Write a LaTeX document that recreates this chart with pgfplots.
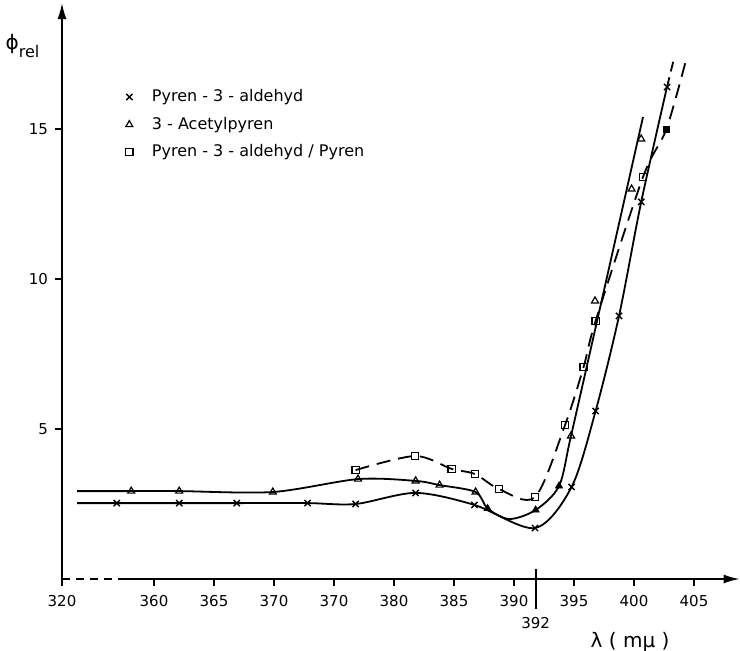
\documentclass[border=0pt]{standalone}
\usepackage{fontspec}
\setmainfont{DejaVu Sans}
\usepackage{pgfplots}
\pgfplotsset{compat=1.18}
\usetikzlibrary{arrows.meta}

\begin{document}
\begin{tikzpicture}[font=\fontsize{8}{9.6}\selectfont]
\path[use as bounding box] (-31pt,-35.5pt) rectangle (339pt,289.5pt);
\begin{axis}[
  at={(0,0)}, anchor=south west,
  x=6pt, y=15pt,
  xmin=352.333, xmax=408.667, ymin=0, ymax=19.133,
  axis x line*=bottom, axis y line*=left,
  axis line style={draw=none},
  clip=false,
  xtick={352.333,360,365,370,375,380,385,390,395,400,405},
  xticklabels={320,360,365,370,370,380,385,390,395,400,405},
  ytick={5,10,15},
  tick align=outside,
  major tick length=3.5pt,
  tick style={black, line width=0.7pt},
  tick label style={font=\fontsize{7.5}{9}\selectfont},
  xticklabel style={yshift=-1pt},
  /pgf/number format/assume math mode=true,
  legend style={at={(axis cs:357.11,16.6)}, anchor=north west, draw=none, fill=none,
    font=\fontsize{8}{9.6}\selectfont, row sep=2.25pt,
    /tikz/every odd column/.append style={column sep=7.5pt}},
  legend cell align=left,
]
% lines
\addplot[black, line width=0.9pt, smooth, tension=0.5, forget plot] coordinates {
  (353.6,2.53) (356.9,2.53) (362.1,2.53) (366.9,2.53) (372.8,2.53) (376.8,2.5)
  (381.8,2.87) (386.7,2.47) (391.75,1.7) (394.8,3.07) (396.8,5.6) (398.75,8.77)
  (400.6,12.57) (402.75,16.4)};
\addplot[black, line width=0.9pt, dash pattern=on 5pt off 3pt, forget plot] coordinates {
  (402.75,16.4) (403.3,17.3)};
\addplot[black, line width=0.9pt, smooth, tension=0.5, forget plot] coordinates {
  (353.6,2.93) (358.1,2.93) (362.1,2.93) (369.9,2.9) (377,3.33) (381.8,3.27)
  (383.8,3.13) (386.8,2.9) (387.8,2.35) (389.6,2.0) (391.8,2.3) (393.75,3.1)
  (394.75,4.77) (397.3,9.27) (399.4,13.0) (400.75,15.4)};
\addplot[black, line width=0.9pt, dash pattern=on 7pt off 4pt, smooth, tension=0.5, forget plot] coordinates {
  (376.8,3.63) (381.75,4.1) (384.8,3.67) (386.75,3.5) (388.75,3.0) (391.75,2.73)
  (394.25,5.13) (395.8,7.07) (396.8,8.6) (400.75,13.4) (402.7,15.0) (404.4,17.4)};
% marks
\addplot[black, only marks, mark=x, mark size=2.2pt, mark options={line width=0.7pt}] coordinates {
  (356.9,2.53) (362.1,2.53) (366.9,2.53) (372.8,2.53) (376.8,2.5) (381.8,2.87)
  (386.7,2.47) (391.75,1.7) (394.8,3.07) (396.8,5.6) (398.75,8.77) (400.6,12.57) (402.75,16.4)};
\addlegendentry{Pyren - 3 - aldehyd}
\addplot[black, only marks, mark=triangle, mark size=2pt, mark options={line width=0.6pt, fill=white}] coordinates {
  (358.1,2.93) (362.1,2.93) (369.9,2.9) (377,3.33) (381.8,3.27) (383.8,3.13)
  (386.8,2.9) (394.75,4.77) (396.75,9.27) (399.8,13.0) (400.6,14.67)};
\addlegendentry{3 - Acetylpyren}
\addplot[black, only marks, mark=square, mark size=1.8pt, mark options={line width=0.6pt, fill=white}] coordinates {
  (376.8,3.63) (381.75,4.1) (384.8,3.67) (386.75,3.5) (388.75,3.0) (391.75,2.73)
  (394.25,5.13) (395.8,7.07) (396.8,8.6) (400.75,13.4)};
\addlegendentry{Pyren - 3 - aldehyd / Pyren}
\addplot[black, only marks, mark=triangle*, mark size=2pt, forget plot] coordinates {
  (387.8,2.35) (391.8,2.3) (393.75,3.1)};
\addplot[black, only marks, mark=square*, mark size=1.5pt, forget plot] coordinates {
  (402.7,15.0)};
% axes
\draw[line width=0.9pt, dash pattern=on 4pt off 3pt] (axis cs:352.333,0) -- (axis cs:357.4,0);
\draw[line width=0.9pt, -{Latex[length=8pt,width=4.5pt]}] (axis cs:357.4,0) -- (axis cs:408.8,0);
\draw[line width=0.9pt, -{Latex[length=8pt,width=4.5pt]}] (axis cs:352.333,-0.15) -- (axis cs:352.333,19.2);
\draw[line width=0.9pt] (axis cs:391.8,0.35) -- (axis cs:391.8,-1.0);
\node[font=\fontsize{7.5}{9}\selectfont] at (axis cs:391.8,-1.47) {392};
\node[font=\fontsize{10}{12}\selectfont] at (axis cs:399.67,-2.1) {λ ( mμ )};
\node[anchor=west, inner sep=0pt] at (axis cs:347.6,17.75) {{\fontsize{10}{12}\selectfont ϕ}\raisebox{-4pt}{rel}};
\end{axis}
\end{tikzpicture}
\end{document}
